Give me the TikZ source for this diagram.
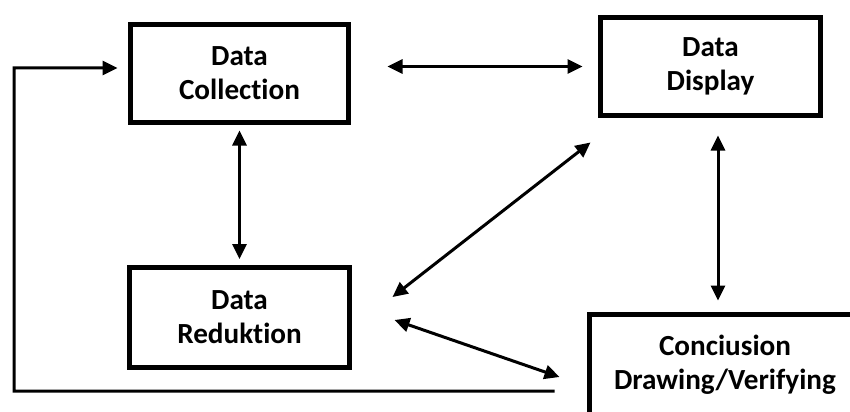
\documentclass[tikz,border=0pt]{standalone}
\usepackage{fontspec}
\setmainfont{Carlito}[Ligatures=NoCommon]
\usepackage{tikz}
\usetikzlibrary{arrows.meta}

\tikzset{
  box/.style={draw,line width=0.1cm,minimum width=4.36cm,minimum height=1.96cm,
    align=center,font=\fontsize{16.6}{19.5}\selectfont\bfseries},
  link/.style={line width=0.06cm,<->},
}

\begin{document}
\begin{tikzpicture}[>={Triangle[length=0.3cm,width=0.28cm]}]
\useasboundingbox (0,0) rectangle (17,8.22);
\node (col) at (4.79,6.75) [box] {Data\\Collection};
\node (disp) at (14.21,6.89) [box,minimum width=4.4cm] {Data\\Display};
\node (red) at (4.79,1.88) [box,minimum width=4.4cm,minimum height=2cm] {Data\\Reduktion};
\node (concl) at (14.5,0.92) [box,minimum width=5.42cm,minimum height=2.02cm] {Conciusion\\Drawing/Verifying};
% links between the stages
\draw[link,shorten <=0.73cm,shorten >=0.31cm] (col.east |- disp.west) -- (disp.west);
\draw[link,shorten <=0.11cm,shorten >=0.11cm] (col) -- (red);
\draw[link,shorten <=0.35cm,shorten >=0.23cm] ([xshift=0.15cm]disp.south) -- ([xshift=-0.14cm]concl.north);
\draw[link] ([xshift=-0.15cm,yshift=-0.49cm]disp.south west) -- ([xshift=0.81cm,yshift=0.4cm]red.east);
\draw[link] ([xshift=0.85cm,yshift=-0.06cm]red.east) -- ([xshift=-0.55cm,yshift=-0.24cm]concl.west);
% feedback loop
\coordinate (back) at (0.28,6.86);
\draw[line width=0.06cm,->,shorten >=0.21cm] ([xshift=-0.65cm,yshift=-0.52cm]concl.west) -| (back) -- ([yshift=0.11cm]col.west);
\end{tikzpicture}
\end{document}
